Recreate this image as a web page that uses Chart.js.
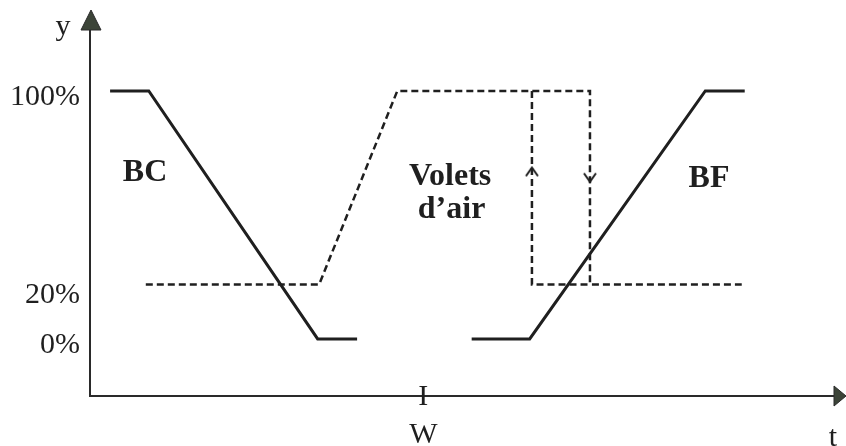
<!DOCTYPE html>
<html>
<head>
<meta charset="utf-8">
<script src="https://cdn.jsdelivr.net/npm/chart.js@4.4.0/dist/chart.umd.min.js"></script>
<style>
  html, body { margin: 0; background: #fff; }
  #wrap { width: 846px; height: 446px; }
</style>
</head>
<body>
<div id="wrap"><canvas id="chart"></canvas></div>
<script>
// BC (chaud) : solid line, t / y in %
const bcT = [2.7, 7.9, 30.6, 35.9]
const bcY = [100, 100, 0, 0]

// volets d'air : dashed, main path then the return branch of the loop
const voletsT = [7.5, 30.8, 41.3, 67.2, 67.2, 87.6]
const voletsY = [22, 22, 100, 100, 22, 22]
const loopT = [59.4, 59.4, 67.2]
const loopY = [100, 22, 22]

// arrows on the loop (up on the left branch, down on the right one)
const arrowT = [59.4, 67.2]
const arrowY = [67.5, 65]
const arrowRot = [0, 180]

// BF (froid) : solid line
const bfT = [51.3, 59.1, 82.7, 88.0]
const bfY = [0, 0, 100, 100]

const yTicks = [0, 20, 100]
const wT = 44.8

const INK = '#1f1f1f'
const SERIF = '"Liberation Serif", "DejaVu Serif", serif'

const pts = (ts, ys) => ts.map((t, i) => ({x: t, y: ys[i]}))

// open chevron used as point style
const chevron = document.createElement('canvas')
chevron.width = 16
chevron.height = 12
{
    const c = chevron.getContext('2d')
    c.strokeStyle = INK
    c.lineWidth = 2
    c.beginPath()
    c.moveTo(2, 10.5)
    c.lineTo(8, 2)
    c.lineTo(14, 10.5)
    c.stroke()
}

const notes = {
    id: 'notes',
    afterDraw(chart) {
        const {ctx, chartArea: a, scales: {x, y}} = chart
        ctx.save()

        // axis arrow heads
        ctx.fillStyle = '#3c4438'
        ctx.strokeStyle = '#2a2a2a'
        ctx.lineWidth = 1
        ctx.beginPath()
        ctx.moveTo(a.left + 1, a.top - 20)
        ctx.lineTo(a.left - 9, a.top)
        ctx.lineTo(a.left + 11, a.top)
        ctx.closePath()
        ctx.fill()
        ctx.stroke()
        ctx.beginPath()
        ctx.moveTo(a.right + 12, a.bottom)
        ctx.lineTo(a.right, a.bottom - 10)
        ctx.lineTo(a.right, a.bottom + 10)
        ctx.closePath()
        ctx.fill()
        ctx.stroke()

        ctx.fillStyle = INK
        ctx.textAlign = 'center'
        ctx.textBaseline = 'alphabetic'
        ctx.font = '30px ' + SERIF
        ctx.fillText('y', a.left - 27, a.top + 5)
        ctx.fillText('t', a.right - 1, 446)
        ctx.fillText('I', x.getPixelForValue(wT), a.bottom + 9)

        ctx.font = 'bold 32px ' + SERIF
        ctx.textBaseline = 'middle'
        ctx.fillText('BC', x.getPixelForValue(7.4), y.getPixelForValue(67))
        ctx.fillText('Volets', x.getPixelForValue(48.4), y.getPixelForValue(65.3))
        ctx.fillText('d\u2019air', x.getPixelForValue(48.6), y.getPixelForValue(52))
        ctx.fillText('BF', x.getPixelForValue(83.2), y.getPixelForValue(64.5))
        ctx.restore()
    }
}

const solid = {
    borderColor: INK,
    borderWidth: 3,
    pointRadius: 0,
    fill: false,
    borderJoinStyle: 'miter'
}
const dashed = {
    borderColor: INK,
    borderWidth: 2.5,
    borderDash: [7, 4],
    pointRadius: 0,
    fill: false,
    borderJoinStyle: 'miter'
}

new Chart(document.getElementById('chart'), {
    type: 'line',
    data: {
        datasets: [
            {...solid, label: 'BC', data: pts(bcT, bcY)},
            {...dashed, label: "Volets d'air", data: pts(voletsT, voletsY)},
            {...dashed, label: 'retour', data: pts(loopT, loopY)},
            {...solid, label: 'BF', data: pts(bfT, bfY)},
            {
                label: 'sens',
                data: pts(arrowT, arrowY),
                showLine: false,
                pointStyle: chevron,
                pointRotation: arrowRot,
                pointRadius: 6
            }
        ]
    },
    options: {
        responsive: true,
        maintainAspectRatio: false,
        animation: false,
        layout: {padding: {top: 30, right: 12, left: 0, bottom: 0}},
        plugins: {legend: {display: false}, tooltip: {enabled: false}},
        scales: {
            x: {
                type: 'linear',
                min: 0,
                max: 100,
                afterFit: s => { s.height = 50 },
                afterBuildTicks: s => { s.ticks = [{value: wT}] },
                grid: {display: false},
                border: {display: true, color: '#2a2a2a', width: 2},
                ticks: {
                    callback: () => 'W',
                    padding: 13,
                    maxRotation: 0,
                    color: INK,
                    font: {family: SERIF, size: 30}
                }
            },
            y: {
                type: 'linear',
                min: -23,
                max: 124.6,
                afterFit: s => { s.width = 90 },
                afterBuildTicks: s => { s.ticks = yTicks.map(v => ({value: v})) },
                grid: {display: false},
                border: {display: true, color: '#2a2a2a', width: 2},
                ticks: {
                    callback: v => v + '%',
                    padding: 2,
                    labelOffset: 6,
                    color: INK,
                    font: {family: SERIF, size: 30}
                }
            }
        }
    },
    plugins: [notes]
})
</script>
</body>
</html>
